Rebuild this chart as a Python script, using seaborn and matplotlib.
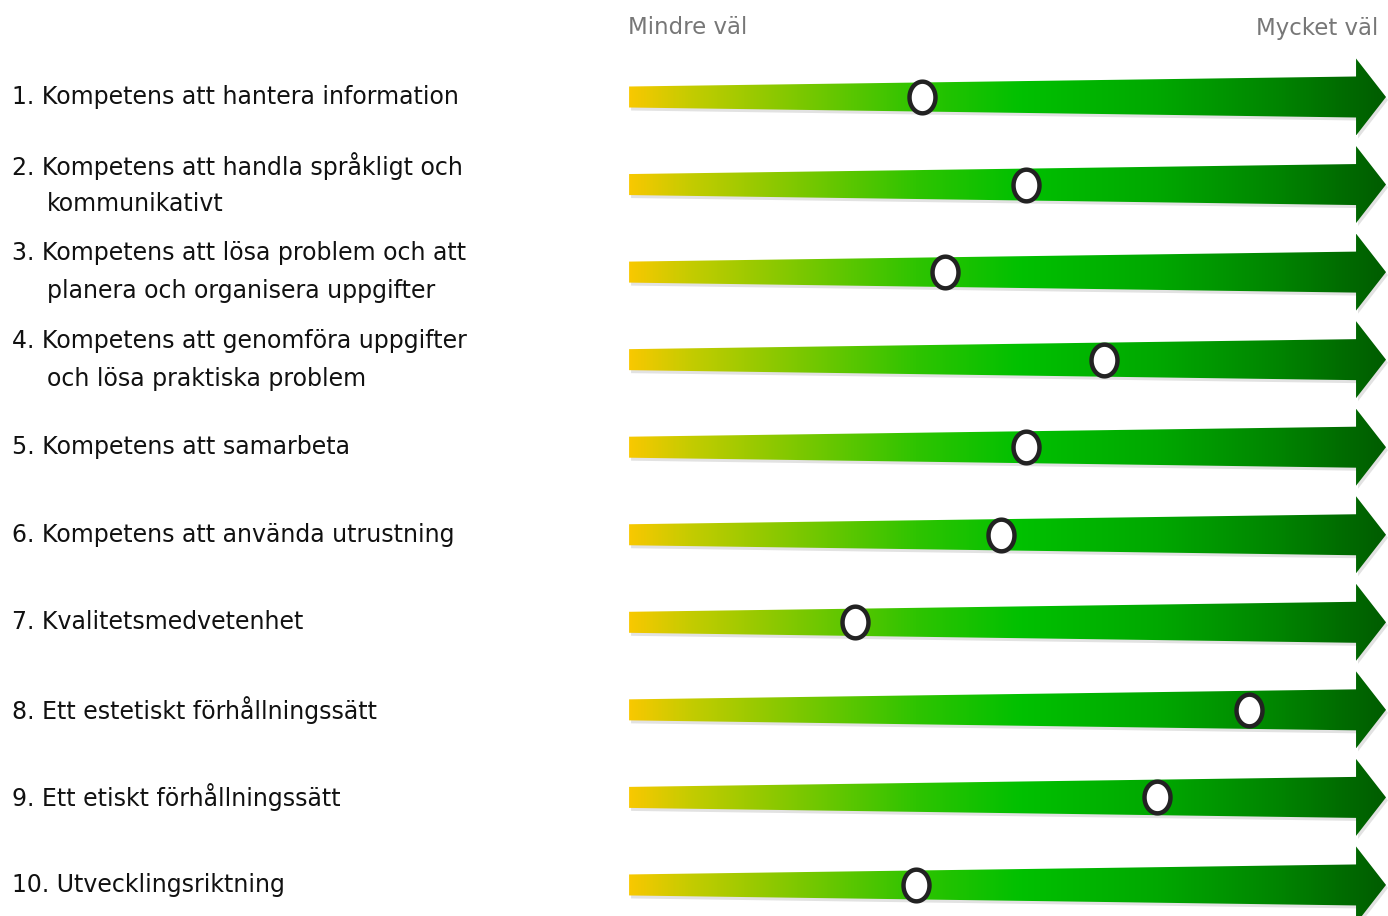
import numpy as np
import pandas as pd
import matplotlib
matplotlib.use("Agg")
import matplotlib.pyplot as plt
import seaborn as sns
from matplotlib.colors import LinearSegmentedColormap
from matplotlib.patches import Polygon
from matplotlib.path import Path
from matplotlib.transforms import blended_transform_factory

# ---------------- data ----------------
label_numbers = ["1.", "2.", "3.", "4.", "5.", "6.", "7.", "8.", "9.", "10."]
label_lines = [
    ["Kompetens att hantera information"],
    ["Kompetens att handla språkligt och", "kommunikativt"],
    ["Kompetens att lösa problem och att", "planera och organisera uppgifter"],
    ["Kompetens att genomföra uppgifter", "och lösa praktiska problem"],
    ["Kompetens att samarbeta"],
    ["Kompetens att använda utrustning"],
    ["Kvalitetsmedvetenhet"],
    ["Ett estetiskt förhållningssätt"],
    ["Ett etiskt förhållningssätt"],
    ["Utvecklingsriktning"],
]
scores = [3.87, 5.24, 4.18, 6.27, 5.24, 4.91, 2.99, 8.19, 6.97, 3.79]
scale_min, scale_max = 0.0, 10.0
scale_labels = ["Mindre väl", "Mycket väl"]

# ---------------- figure ----------------
sns.set_theme(style="white")
plt.rcParams['font.family'] = ['DejaVu Sans']

W, H = 1388, 916
fig = plt.figure(figsize=(W / 100, H / 100), dpi=100)
ax = fig.add_axes([0, 0, 1, 1])

px_per_unit = 75.8
row_px = 87.55
first_row_px = 97
x_left = scale_min - 630 / px_per_unit
x_right = scale_max + 2 / px_per_unit
y_top = -first_row_px / row_px
y_bot = y_top + H / row_px

cmap = LinearSegmentedColormap.from_list(
    "arrow",
    [(0.0, "#f8c800"), (0.08, "#c4cc00"), (0.22, "#7ec800"),
     (0.38, "#2ec400"), (0.52, "#00c000"), (0.70, "#00a800"),
     (0.86, "#008400"), (1.0, "#005c00")])
grad = np.linspace(0, 1, 512).reshape(1, -1)

n = len(scores)
rows = np.arange(n)

# arrow geometry (style), in units of data
half_left = 10.5 / row_px
half_shaft = 20.5 / row_px
half_head = 38.5 / row_px
head_len = 30 / px_per_unit
shaft_end = scale_max - head_len
shadow_dy = 3 / row_px
shadow_dx = 2 / px_per_unit

for i in rows:
    verts = [
        (scale_min, i - half_left),
        (shaft_end, i - half_shaft),
        (shaft_end, i - half_head),
        (scale_max, i),
        (shaft_end, i + half_head),
        (shaft_end, i + half_shaft),
        (scale_min, i + half_left),
    ]
    shadow = Polygon([(x + shadow_dx, y + shadow_dy) for x, y in verts],
                     closed=True, facecolor="#e2e2e2", edgecolor="none", zorder=1)
    ax.add_patch(shadow)
    poly = Polygon(verts, closed=True, facecolor="none", edgecolor="none", zorder=2)
    ax.add_patch(poly)
    im = ax.imshow(grad, extent=(scale_min, scale_max, i + half_head, i - half_head),
                   cmap=cmap, aspect="auto", interpolation="bilinear", zorder=2)
    im.set_clip_path(poly)

# markers (ellipse)
t = np.linspace(0, 2 * np.pi, 60)
ell = Path(np.column_stack([0.82 * np.cos(t), np.sin(t)]), closed=True)
df = pd.DataFrame({"score": scores, "row": rows})
sns.scatterplot(data=df, x="score", y="row", marker=ell, s=520,
                color="white", edgecolor="#222222", linewidth=3.2,
                ax=ax, zorder=5, legend=False)

ax.set_xlim(x_left, x_right)
ax.set_ylim(y_bot, y_top)
ax.axis("off")

# labels
tr = blended_transform_factory(fig.transFigure, ax.transData)
line_h = 38 / row_px
fs = 17
for i, (num, lines) in enumerate(zip(label_numbers, label_lines)):
    k = len(lines)
    for j, ln in enumerate(lines):
        y = i + (j - (k - 1) / 2) * line_h
        if j == 0:
            ax.text(12 / W, y, f"{num} {ln}", transform=tr, ha="left", va="center",
                    fontsize=fs, color="#111111")
        else:
            ax.text(47 / W, y, ln, transform=tr, ha="left", va="center",
                    fontsize=fs, color="#111111")

fig.text(628 / W, 1 - 28 / H, scale_labels[0], ha="left", va="center",
         fontsize=16.5, color="#777777")
fig.text(1378 / W, 1 - 28 / H, scale_labels[1], ha="right", va="center",
         fontsize=16.5, color="#777777")

fig.savefig("out.png", dpi=100)
